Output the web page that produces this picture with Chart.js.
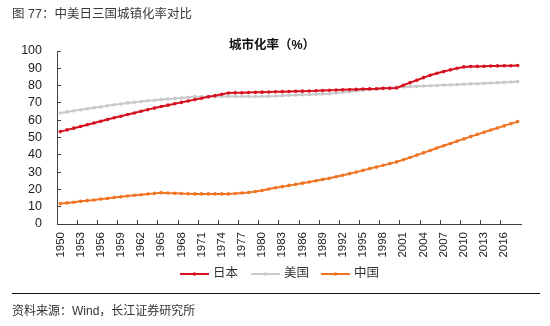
<!DOCTYPE html>
<html>
<head>
<meta charset="utf-8">
<script src="https://cdn.jsdelivr.net/npm/chart.js@4.4.1/dist/chart.umd.min.js"></script>
<style>
  html, body { margin: 0; padding: 0; background: #fff; }
  #wrap { position: relative; width: 550px; height: 326px; }
</style>
</head>
<body>
<div id="wrap"><canvas id="urbanChart" width="550" height="326"></canvas></div>
<script>
// 年份 1950-2018
const years = [
  1950,1951,1952,1953,1954,1955,1956,1957,1958,1959,
  1960,1961,1962,1963,1964,1965,1966,1967,1968,1969,
  1970,1971,1972,1973,1974,1975,1976,1977,1978,1979,
  1980,1981,1982,1983,1984,1985,1986,1987,1988,1989,
  1990,1991,1992,1993,1994,1995,1996,1997,1998,1999,
  2000,2001,2002,2003,2004,2005,2006,2007,2008,2009,
  2010,2011,2012,2013,2014,2015,2016,2017,2018
];

// 城市化率 (%)
const japan = [
  53.4,54.4,55.4,56.4,57.4,58.4,59.4,60.4,61.4,62.3,
  63.3,64.2,65.2,66.1,67.0,67.9,68.7,69.5,70.3,71.1,
  71.9,72.7,73.5,74.2,75.0,75.7,75.8,75.9,76.0,76.1,
  76.2,76.3,76.4,76.5,76.6,76.7,76.8,76.9,77.0,77.2,
  77.3,77.4,77.6,77.7,77.8,78.0,78.1,78.2,78.4,78.5,
  78.6,80.2,81.7,83.1,84.6,86.0,87.1,88.1,89.1,90.0,
  90.8,91.0,91.1,91.2,91.3,91.4,91.5,91.5,91.6
];
const usa = [
  64.2,64.8,65.4,66.0,66.6,67.2,67.7,68.3,68.9,69.4,
  70.0,70.4,70.8,71.2,71.5,71.9,72.2,72.6,72.9,73.3,
  73.6,73.6,73.6,73.6,73.7,73.7,73.7,73.7,73.7,73.7,
  73.7,73.9,74.0,74.2,74.4,74.5,74.7,74.8,75.0,75.2,
  75.3,75.7,76.1,76.5,76.9,77.3,77.7,78.0,78.4,78.8,
  79.1,79.2,79.4,79.6,79.8,79.9,80.1,80.3,80.4,80.6,
  80.8,81.0,81.1,81.3,81.5,81.7,81.9,82.1,82.3
];
const china = [
  11.8,12.2,12.6,13.1,13.5,13.9,14.4,14.8,15.3,15.7,
  16.2,16.6,16.9,17.3,17.7,18.1,17.9,17.8,17.6,17.5,
  17.4,17.4,17.4,17.4,17.4,17.4,17.6,17.9,18.2,18.8,
  19.4,20.2,20.9,21.6,22.3,22.9,23.6,24.3,25.0,25.7,
  26.4,27.3,28.2,29.1,30.0,31.0,32.0,32.9,33.9,34.9,
  35.9,37.1,38.4,39.8,41.1,42.5,43.9,45.2,46.5,47.9,
  49.2,50.5,51.8,53.0,54.3,55.5,56.7,58.0,59.2
];

const seriesNames = ['日本', '美国', '中国'];
const seriesColors = ['#d7101e', '#c9c9c9', '#f07423'];
const yTicks = [0, 10, 20, 30, 40, 50, 60, 70, 80, 90, 100];

const FONT = "'Liberation Sans', 'Noto Sans CJK SC', sans-serif";
Chart.defaults.font.family = FONT;
Chart.defaults.color = '#222';

function makeSet(label, data, color) {
  return {
    label: label,
    data: data,
    borderColor: color,
    backgroundColor: color,
    borderWidth: 2,
    pointRadius: 1.8,
    pointHoverRadius: 2,
    pointBorderWidth: 0,
    tension: 0
  };
}

// 标题、图例、分隔线和资料来源
const decorations = {
  id: 'decorations',
  afterDraw(chart) {
    const ctx = chart.ctx;
    ctx.save();
    ctx.textBaseline = 'middle';

    ctx.fillStyle = '#3a3a3a';
    ctx.font = '12.5px ' + FONT;
    ctx.textAlign = 'left';
    ctx.fillText('图 77：中美日三国城镇化率对比', 12, 15);

    ctx.fillStyle = '#111';
    ctx.font = 'bold 12.5px ' + FONT;
    ctx.textAlign = 'center';
    ctx.fillText('城市化率（%）', 272, 46);

    // 图例
    const lx = [180, 251, 321];
    ctx.font = '12.5px ' + FONT;
    ctx.textAlign = 'left';
    chart.data.datasets.forEach((ds, i) => {
      const x = lx[i], y = 274;
      ctx.strokeStyle = ds.borderColor;
      ctx.lineWidth = 2;
      ctx.beginPath();
      ctx.moveTo(x, y);
      ctx.lineTo(x + 29, y);
      ctx.stroke();
      ctx.fillStyle = ds.borderColor;
      ctx.beginPath();
      ctx.arc(x + 14.5, y, 1.8, 0, Math.PI * 2);
      ctx.fill();
      ctx.fillStyle = '#333';
      ctx.fillText(ds.label, x + 33, y);
    });

    ctx.strokeStyle = '#111';
    ctx.lineWidth = 1;
    ctx.beginPath();
    ctx.moveTo(12, 293.5);
    ctx.lineTo(540, 293.5);
    ctx.stroke();

    ctx.fillStyle = '#333';
    ctx.font = '12px ' + FONT;
    ctx.fillText('资料来源：Wind，长江证券研究所', 12, 312);
    ctx.restore();
  }
};

new Chart(document.getElementById('urbanChart'), {
  type: 'line',
  data: {
    labels: years.map(String),
    datasets: [
      makeSet(seriesNames[0], japan, seriesColors[0]),
      makeSet(seriesNames[1], usa, seriesColors[1]),
      makeSet(seriesNames[2], china, seriesColors[2])
    ]
  },
  options: {
    responsive: false,
    animation: false,
    events: [],
    layout: { padding: { left: 0, top: 51, right: 29, bottom: 64 } },
    plugins: { legend: { display: false }, title: { display: false }, tooltip: { enabled: false } },
    scales: {
      x: {
        type: 'category',
        offset: true,
        afterFit(scale) { scale.height = 38; },
        border: { color: '#404040', width: 1 },
        grid: {
          offset: true,
          drawOnChartArea: false,
          tickLength: -4,
          color: (c) => (c.index % 3 === 0 ? '#404040' : 'rgba(0,0,0,0)')
        },
        ticks: {
          autoSkip: false,
          maxRotation: 90,
          minRotation: 90,
          padding: 12,
          font: { size: 11.5 },
          color: '#222',
          callback: function (val, idx) {
            return idx % 3 === 0 ? this.getLabelForValue(val) : '';
          }
        }
      },
      y: {
        min: 0,
        max: 100,
        afterFit(scale) { scale.width = 57; },
        afterBuildTicks(scale) { scale.ticks = yTicks.map(v => ({ value: v })); },
        border: { color: '#404040', width: 1 },
        grid: { drawOnChartArea: false, tickLength: -4, color: '#404040' },
        ticks: { autoSkip: false, padding: 19, font: { size: 12.5 }, color: '#222' }
      }
    }
  },
  plugins: [decorations]
});
</script>
</body>
</html>
